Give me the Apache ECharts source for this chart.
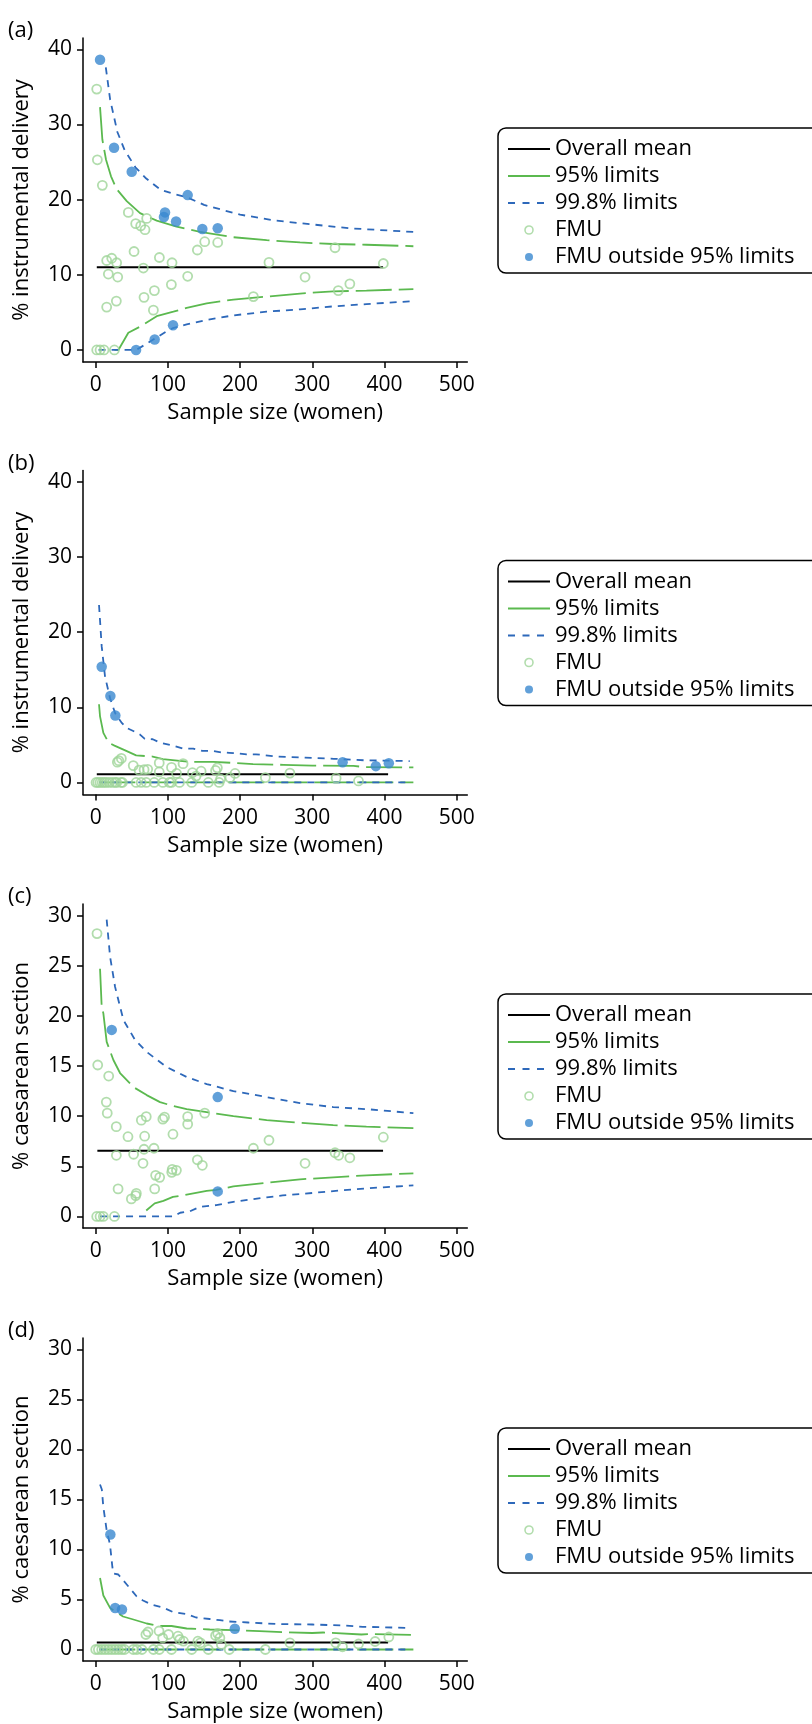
<!DOCTYPE html>
<html>
<head>
<meta charset="utf-8">
<script src="https://cdn.jsdelivr.net/npm/echarts@6/dist/echarts.min.js"></script>
<style>
html, body { margin: 0; padding: 0; background: #ffffff; }
#chart { width: 812px; height: 1724px; }
</style>
</head>
<body>
<div id="chart"></div>
<script>
// ---- Tick labels ----
const xTicks = [0, 100, 200, 300, 400, 500];
const yTicksDelivery = [0, 10, 20, 30, 40];
const yTicksCaesarean = [0, 5, 10, 15, 20, 25, 30];

// ---- Panel (a): instrumental delivery ----
const fmuA = [[1.4,34.7],[2.3,25.3],[9.2,21.9],[15.2,11.9],[22.2,12.2],[29,11.6],[17.5,10.1],[30.5,9.7],[15.2,5.7],[28.6,6.5],
  [45.2,18.3],[55.4,16.8],[62.3,16.5],[68.3,16.0],[70.6,17.5],[53.1,13.1],[66,10.9],[66.9,7.0],[81.3,7.9],[79.9,5.3],
  [88.2,12.3],[105.7,11.6],[104.8,8.7],[127.4,9.8],[140.8,13.3],[151,14.4],[169,14.3],[218.4,7.1],[240,11.65],[290,9.7],
  [331.5,13.6],[336,7.9],[352,8.8],[398.4,11.5],[1.4,0],[6,0],[11.5,0],[25.9,0]];
const outA = [[6,38.6],[25.4,26.9],[49.9,23.7],[96,18.3],[94.5,17.7],[111.3,17.1],[127.4,20.6],[147.7,16.1],[169,16.2],[55.9,0],[81.7,1.4],[107.1,3.3]];
const meanA = [[1.5,11.0],[398,11.0]];
const up95A = [[6,32.3],[9.2,28],[14.3,25.3],[21.2,23.1],[29,21.4],[43,19.8],[61.4,18.2],[84.5,17.2],[112,16.4],[144.5,15.7],[190.7,15.0],[236.8,14.6],[283,14.3],[329,14.1],[375,14.0],[440,13.8]];
const lo95A = [[26,0],[31.4,0],[45.2,2.3],[61.4,3.1],[84.5,4.5],[107.6,5.1],[126,5.6],[153.7,6.2],[190.7,6.7],[236.8,7.1],[283,7.5],[329,7.8],[375,7.9],[440,8.1]];
const up998A = [[14,37.6],[20,33.3],[30,29],[40,26.6],[55,24.3],[70,22.8],[90,21.3],[110,20.7],[127,20.3],[150,19.3],[200,18.0],[250,17.2],[300,16.7],[350,16.2],[440,15.7]];
const lo998A = [[4,0],[55.9,0],[70,0.8],[81.7,1.5],[98.3,2.5],[107,2.9],[126,3.4],[153.7,4.0],[190.7,4.6],[236.8,5.1],[283,5.4],[329,5.8],[375,6.1],[440,6.5]];

// ---- Panel (b): instrumental delivery ----
const fmuB = [[0.5,0],[3,0],[6,0],[9,0],[12,0],[15,0],[19,0],[23,0],[27,0],[29,0],[35,0],[37,0],[56,0],[63,0],[70,0],[81,0],[93,0],[102,0],[105,0],[116,0],[133,0],[156,0],[171,0],
  [30,2.7],[32,2.9],[35.5,3.2],[52,2.25],[60,1.65],[67,1.7],[72,1.75],[88,2.6],[88,1.4],[105,2.0],[112,1.2],[121,2.5],[134,1.3],[139,0.85],[146,1.5],[166,1.6],[168.5,1.95],[173,0.45],[186,0.65],[193,1.2],[235,0.65],[269,1.25],[333,0.57],[364,0.2]];
const outB = [[8.3,15.4],[20.3,11.5],[27.2,8.9],[342,2.7],[388,2.17],[406,2.55]];
const meanB = [[1.5,1.08],[405,1.08]];
const up95B = [[4.6,10.4],[6,8.8],[10.6,6.6],[17.9,5.3],[26,4.9],[40,4.3],[56,3.6],[79,3.45],[93,3.1],[130,2.75],[163,2.75],[218,2.45],[260,2.35],[300,2.25],[357,2.2],[373,2.05],[440,2.0]];
const lo95B = [[5,0],[440,0]];
const up998B = [[4.6,23.6],[8.3,18.1],[12.9,14.1],[19.9,11.2],[27,9.2],[35.5,8.0],[42,7.3],[52,6.85],[61,6.4],[68,5.8],[79,5.75],[89,5.3],[107,4.9],[121,4.5],[135,4.5],[148,4.2],[162,4.2],[174,4.0],[185,3.95],[209,3.75],[222,3.75],[250,3.45],[290,3.3],[330,3.15],[372,2.95],[435,2.85]];
const lo998B = [[5,0],[431,0]];

// ---- Panel (c): caesarean section ----
const fmuC = [[1.8,28.2],[2.8,15.1],[18,14.0],[14.7,11.4],[16,10.3],[28.5,8.95],[44.7,7.95],[28.6,6.1],[31,2.75],[52.5,6.2],[49.4,1.75],[55.4,2.08],[56.3,2.3],
  [63.2,9.6],[70,9.95],[67.8,8.0],[66.9,6.7],[80.7,6.8],[65.5,5.3],[83,4.1],[88.6,3.9],[81.7,2.75],[93,9.7],[95.3,9.9],[107,8.2],[106,4.7],[111.8,4.6],[105.3,4.4],
  [127.4,9.95],[127.4,9.2],[140.8,5.65],[147.7,5.1],[151,10.3],[218.4,6.8],[240,7.6],[290,5.3],[331.5,6.35],[336.6,6.1],[352,5.85],[398.4,7.9],
  [1.4,0],[6,0],[10.6,0],[25.9,0]];
const outC = [[22.2,18.6],[169,11.9],[169,2.5]];
const meanC = [[2.3,6.55],[398,6.55]];
const up95C = [[6,24.7],[8.3,20.9],[10.6,20.25],[15.2,17.4],[24.5,15.6],[33.7,14.3],[52.2,12.9],[70.6,12.1],[89.1,11.4],[107.6,11.0],[126,10.7],[153.7,10.4],[190.7,10.0],[236.8,9.6],[283,9.35],[329,9.1],[375,8.95],[440,8.8]];
const lo95C = [[70,0.6],[81.7,1.3],[93.7,1.56],[107,1.95],[121,2.1],[153.7,2.55],[167,2.65],[190.7,3.0],[236.8,3.36],[283,3.7],[329,3.9],[375,4.1],[440,4.3]];
const up998C = [[15.2,29.6],[19.9,25.9],[26.8,22.9],[38.3,19.6],[54.5,17.6],[70.6,16.4],[98.3,14.9],[126,13.9],[153.7,13.2],[190.7,12.5],[236.8,11.9],[283,11.3],[329,10.9],[375,10.7],[440,10.3]];
const lo998C = [[6,0],[107,0],[117,0.37],[130,0.5],[144.5,0.96],[167,1.13],[190.7,1.46],[236.8,1.9],[259,2.1],[283,2.23],[329,2.53],[375,2.8],[440,3.1]];

// ---- Panel (d): caesarean section ----
const fmuD = [[0,0],[3.7,0],[8.3,0],[12.9,0],[17.5,0],[22.2,0],[26.8,0],[31.4,0],[36,0],[40,0],[52,0],[57,0],[64,0],[80,0],[88,0],[105,0],[133,0],[156,0],[185,0],[235,0],
  [69.5,1.5],[72.4,1.75],[87.7,1.85],[92.8,1.15],[100.8,1.5],[114,1.33],[116.3,1.0],[121.5,0.83],[141.5,0.83],[145,0.67],[166,1.4],[169,1.6],[172,1.16],[174,0.5],[269,0.67],[332.5,0.67],[341.8,0.27],[364,0.55],[387,0.8],[406,1.25]];
const outD = [[20.3,11.5],[26.9,4.15],[36.4,4.0],[192.7,2.08]];
const meanD = [[1.5,0.7],[405,0.7]];
const up95D = [[6,7.15],[10.6,5.4],[19.9,4.16],[25,3.9],[37.8,3.3],[52.2,3.0],[70.6,2.6],[88,2.35],[105,2.35],[126,2.1],[158,2.0],[190.7,1.93],[227,1.83],[259,1.73],[300,1.65],[315,1.7],[368,1.5],[384,1.55],[440,1.45]];
const lo95D = [[5,0],[440,0]];
const up998D = [[6,16.5],[8.5,16.0],[10.5,14.3],[15.2,11.9],[19.8,10.5],[23,8.3],[24.4,7.6],[31.3,7.5],[43,6.5],[56.8,5.3],[65.5,4.9],[77,4.5],[93,4.2],[107,3.75],[125,3.55],[139,3.2],[158,3.05],[172,2.93],[185,2.8],[211,2.7],[250,2.55],[300,2.5],[343,2.4],[370,2.27],[435,2.16]];
const lo998D = [[5,0],[431,0]];

// ---- Styling ----
const FONT = 'Open Sans';
const INK = '#000000';
const GREEN = '#5bb94f';
const BLUE_LINE = '#2d68ba';
const BLUE_DOT = '#3a88cf';
const PALE_GREEN = '#9fd598';
const DASH_95 = [36, 7];
const DASH_998 = [7, 6];
const NO_MARKER = { color: 'rgba(0,0,0,0)', borderColor: 'rgba(0,0,0,0)', borderWidth: 0, opacity: 0 };

const panels = [
  { label: '(a)', yName: '% instrumental delivery', yTicks: yTicksDelivery, yMin: -1.6, yMax: 41.5, top: 38,
    fmu: fmuA, out: outA, mean: meanA, up95: up95A, lo95: lo95A, up998: up998A, lo998: lo998A },
  { label: '(b)', yName: '% instrumental delivery', yTicks: yTicksDelivery, yMin: -1.6, yMax: 41.5, top: 470.5,
    fmu: fmuB, out: outB, mean: meanB, up95: up95B, lo95: lo95B, up998: up998B, lo998: lo998B },
  { label: '(c)', yName: '% caesarean section', yTicks: yTicksCaesarean, yMin: -1.15, yMax: 31.15, top: 904,
    fmu: fmuC, out: outC, mean: meanC, up95: up95C, lo95: lo95C, up998: up998C, lo998: lo998C },
  { label: '(d)', yName: '% caesarean section', yTicks: yTicksCaesarean, yMin: -1.15, yMax: 31.15, top: 1338,
    fmu: fmuD, out: outD, mean: meanD, up95: up95D, lo95: lo95D, up998: up998D, lo998: lo998D }
];

const GRID_LEFT = 83;
const GRID_WIDTH = 384.3;
const GRID_HEIGHT = 324;

const axisLineStyle = { color: INK, width: 1.5 };

function lineSeries(name, data, i, color, width, dash, z) {
  return {
    type: 'line', name: name, data: data, xAxisIndex: i, yAxisIndex: i,
    symbol: 'none', showSymbol: false, silent: true, z: z,
    lineStyle: { color: color, width: width, type: dash },
    itemStyle: { color: color },
    emphasis: { disabled: true }
  };
}

const grid = [], xAxis = [], yAxis = [], series = [], title = [], legend = [];

panels.forEach(function (p, i) {
  grid.push({ left: GRID_LEFT, top: p.top, width: GRID_WIDTH, height: GRID_HEIGHT, containLabel: false });

  xAxis.push({
    type: 'value', gridIndex: i, min: -17.6, max: 514.7,
    name: 'Sample size (women)', nameLocation: 'middle', nameGap: 40, nameMoveOverlap: false,
    nameTextStyle: { fontFamily: FONT, fontSize: 22, color: INK },
    axisLine: { show: true, onZero: false, lineStyle: axisLineStyle },
    axisTick: { show: true, length: 6, customValues: xTicks, lineStyle: axisLineStyle },
    axisLabel: { customValues: xTicks, fontFamily: FONT, fontSize: 21, color: INK, margin: 13 },
    splitLine: { show: false }
  });

  yAxis.push({
    type: 'value', gridIndex: i, min: p.yMin, max: p.yMax,
    name: p.yName, nameLocation: 'middle', nameGap: 50, nameRotate: 90, nameMoveOverlap: false,
    nameTextStyle: { fontFamily: FONT, fontSize: 22, color: INK },
    axisLine: { show: true, onZero: false, lineStyle: axisLineStyle },
    axisTick: { show: true, length: 6, customValues: p.yTicks, lineStyle: axisLineStyle },
    axisLabel: { customValues: p.yTicks, fontFamily: FONT, fontSize: 21, color: INK, margin: 11 },
    splitLine: { show: false }
  });

  title.push({
    text: p.label, left: 8, top: p.top - 18, padding: 0,
    textStyle: { fontFamily: FONT, fontSize: 22, fontWeight: 'normal', color: INK }
  });

  series.push(lineSeries('95% limits', p.lo95, i, GREEN, 1.8, DASH_95, 2));
  series.push(lineSeries('95% limits', p.up95, i, GREEN, 1.8, DASH_95, 2));
  series.push(lineSeries('99.8% limits', p.lo998, i, BLUE_LINE, 1.8, DASH_998, 3));
  series.push(lineSeries('99.8% limits', p.up998, i, BLUE_LINE, 1.8, DASH_998, 3));
  series.push(lineSeries('Overall mean', p.mean, i, INK, 2, 'solid', 4));

  series.push({
    type: 'scatter', name: 'FMU', data: p.fmu, xAxisIndex: i, yAxisIndex: i,
    symbol: 'circle', symbolSize: 9, z: 5, silent: true,
    itemStyle: { color: 'rgba(255,255,255,0)', borderColor: PALE_GREEN, borderWidth: 1.8 }
  });
  series.push({
    type: 'scatter', name: 'FMU outside 95% limits', data: p.out, xAxisIndex: i, yAxisIndex: i,
    symbol: 'circle', symbolSize: 10.5, z: 6, silent: true,
    itemStyle: { color: BLUE_DOT }
  });

  legend.push({
    orient: 'vertical', left: 498, top: p.top + 90,
    padding: [10, 28, 5, 9], itemGap: 5, itemWidth: 42, itemHeight: 8,
    borderColor: INK, borderWidth: 1.5, borderRadius: 8, backgroundColor: '#ffffff',
    selectedMode: false,
    textStyle: { fontFamily: FONT, fontSize: 22, lineHeight: 22, color: INK },
    data: [
      { name: 'Overall mean', itemStyle: NO_MARKER, lineStyle: { color: INK, width: 2, type: 'solid' } },
      { name: '95% limits', itemStyle: NO_MARKER, lineStyle: { color: GREEN, width: 2, type: 'solid' } },
      { name: '99.8% limits', itemStyle: NO_MARKER, lineStyle: { color: BLUE_LINE, width: 2, type: [7, 7.5] } },
      { name: 'FMU', icon: 'circle', itemStyle: { color: 'rgba(255,255,255,0)', borderColor: PALE_GREEN, borderWidth: 1.6 } },
      { name: 'FMU outside 95% limits', icon: 'circle', itemStyle: { color: BLUE_DOT, borderWidth: 0 } }
    ]
  });
});

const chart = echarts.init(document.getElementById('chart'), null, { renderer: 'canvas' });
chart.setOption({
  animation: false,
  backgroundColor: '#ffffff',
  textStyle: { fontFamily: FONT },
  title: title,
  legend: legend,
  grid: grid,
  xAxis: xAxis,
  yAxis: yAxis,
  series: series
});
</script>
</body>
</html>
